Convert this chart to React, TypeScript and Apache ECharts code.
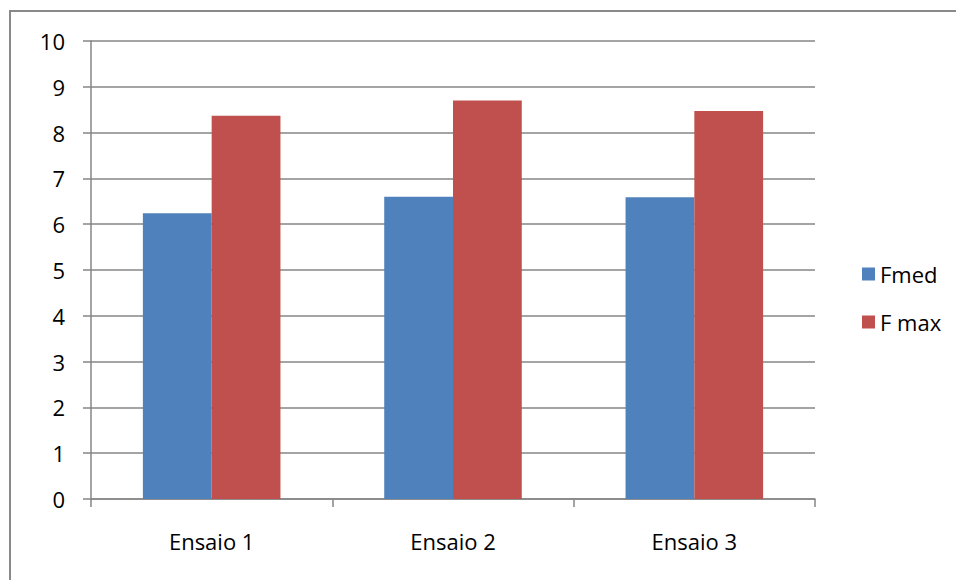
import React, { useEffect, useRef } from "react";
import * as echarts from "echarts";

const categories = ["Ensaio 1", "Ensaio 2", "Ensaio 3"];
const fmed = [6.24, 6.6, 6.59];
const fmax = [8.37, 8.7, 8.47];
const seriesNames = ["Fmed", "F max"];

export default function App() {
  const ref = useRef<HTMLDivElement>(null);
  useEffect(() => {
    document.body.style.margin = "0";
    const chart = echarts.init(ref.current!, null, { renderer: "svg" });
    const font = "'Open Sans', sans-serif";
    chart.setOption({
      animation: false,
      backgroundColor: "#ffffff",
      graphic: [
        {
          type: "rect",
          shape: { x: 10, y: 11, width: 1000, height: 700 },
          style: { fill: "none", stroke: "#898989", lineWidth: 2 },
          silent: true,
        },
      ],
      grid: { left: 91, right: 141, top: 41, bottom: 81 },
      legend: {
        orient: "vertical",
        left: 857,
        top: 257,
        itemWidth: 13,
        itemHeight: 13,
        itemGap: 24,
        icon: "rect",
        textStyle: { fontFamily: font, fontSize: 22, color: "#000", lineHeight: 24, padding: [0, 0, 0, 0] },
        data: seriesNames,
      },
      xAxis: {
        type: "category",
        data: categories,
        axisLine: { lineStyle: { color: "#868686", width: 1.5 } },
        axisTick: { show: true, length: 8, inside: false, alignWithLabel: false, lineStyle: { color: "#868686", width: 1.5 } },
        axisLabel: { fontFamily: font, fontSize: 22, color: "#000", margin: 30, lineHeight: 24 },
      },
      yAxis: {
        type: "value",
        min: 0,
        max: 10,
        interval: 1,
        axisLine: { show: true, lineStyle: { color: "#868686", width: 1.5 } },
        axisTick: { show: true, length: 8, lineStyle: { color: "#868686", width: 1.5 } },
        axisLabel: { fontFamily: font, fontSize: 22, color: "#000", margin: 26 },
        splitLine: { lineStyle: { color: "#868686", width: 1.5 } },
      },
      series: [
        {
          name: seriesNames[0],
          type: "bar",
          data: fmed,
          itemStyle: { color: "#4F81BD" },
          barGap: "0%",
          barCategoryGap: "43%",
        },
        {
          name: seriesNames[1],
          type: "bar",
          data: fmax,
          itemStyle: { color: "#C0504D" },
          barGap: "0%",
          barCategoryGap: "43%",
        },
      ],
    });
    return () => chart.dispose();
  }, []);
  return <div ref={ref} style={{ width: 956, height: 580 }} />;
}
